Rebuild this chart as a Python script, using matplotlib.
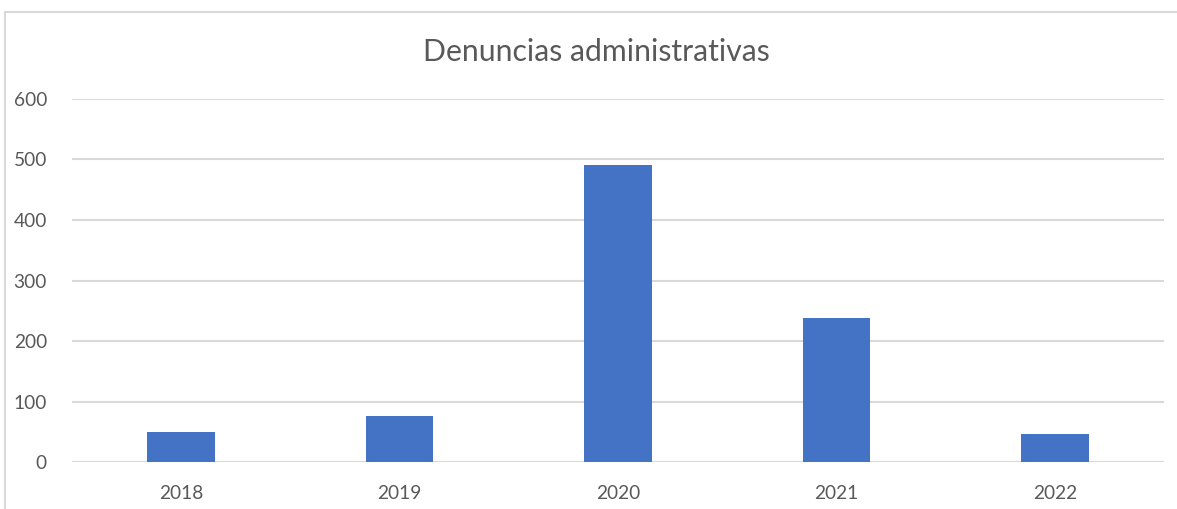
import matplotlib
matplotlib.use("Agg")
import matplotlib.pyplot as plt
from matplotlib.patches import Rectangle

years = ["2018", "2019", "2020", "2021", "2022"]
values = [50, 76, 491, 238, 46]
yticks = [0, 100, 200, 300, 400, 500, 600]
title = "Denuncias administrativas"

W, H = 1177, 509
fig = plt.figure(figsize=(W / 100, H / 100), dpi=100)
fig.patch.set_facecolor("white")

# outer chart border
fig.add_artist(Rectangle((5 / W, -0.1), 1.2, (H - 12) / H + 0.1, transform=fig.transFigure,
                         fill=False, edgecolor="#d9d9d9", linewidth=1.5))

ax = fig.add_axes([72 / W, (H - 462.3) / H, 1092 / W, (462.3 - 98.7) / H])
x = list(range(len(years)))
ax.bar(x, values, width=0.31, color="#4472C4", zorder=3)
ax.set_xlim(-0.5, len(years) - 0.5)
ax.set_ylim(0, 600)
ax.set_yticks(yticks)
ax.set_xticks(x)
ax.set_xticklabels(years)
for s in ax.spines.values():
    s.set_visible(False)
ax.grid(axis="y", color="#d9d9d9", linewidth=1.5, zorder=0)
ax.tick_params(axis="both", length=0, colors="#595959", labelsize=13.8)
ax.tick_params(axis="y", pad=18)
ax.tick_params(axis="x", pad=16)
for lbl in ax.get_xticklabels() + ax.get_yticklabels():
    lbl.set_fontfamily("Lato")
ax.axhline(0, color="#d9d9d9", linewidth=1.5, zorder=2)

fig.text(596.5 / W, (H - 52) / H, title, ha="center", va="center",
         fontsize=21.7, color="#595959", fontfamily="Lato")

fig.savefig("out.png", dpi=100)
